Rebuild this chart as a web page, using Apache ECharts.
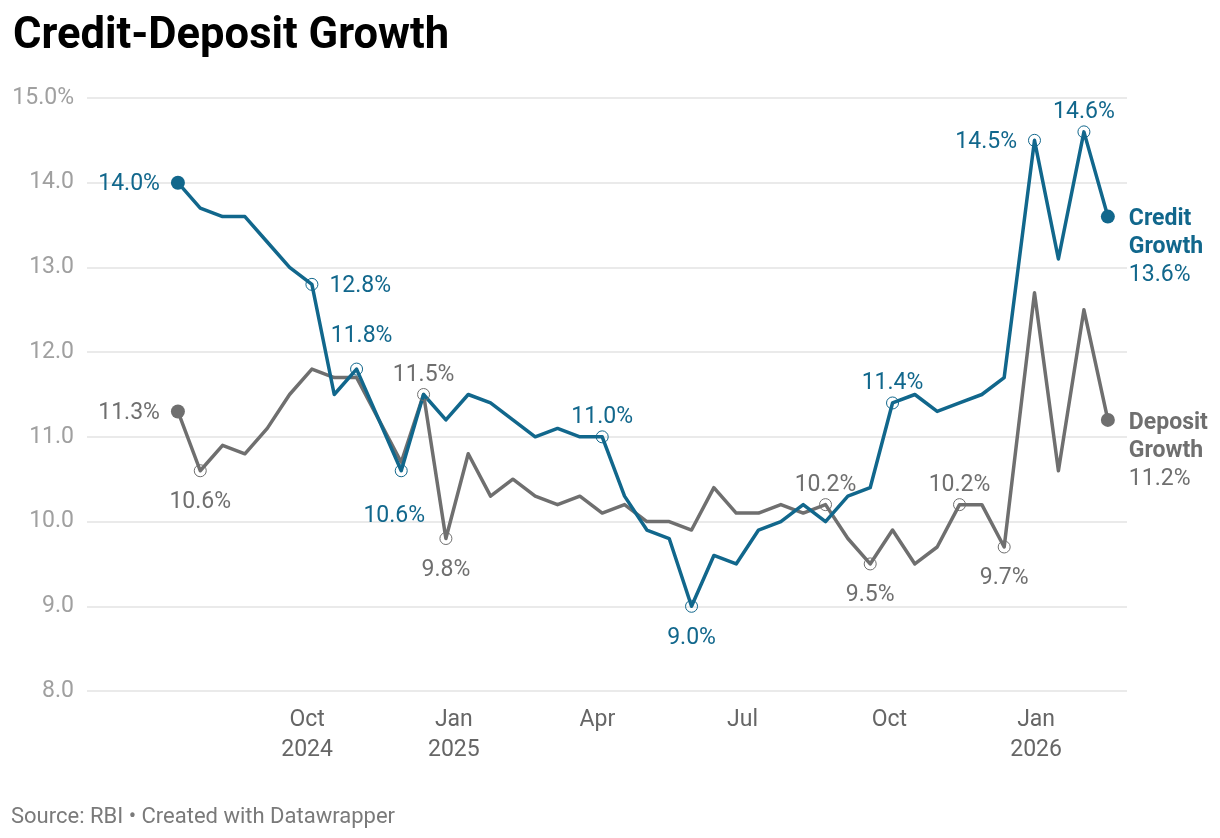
<!DOCTYPE html>
<html>
<head>
<meta charset="utf-8">
<script src="https://cdn.jsdelivr.net/npm/echarts@6/dist/echarts.min.js"></script>
<style>
  html, body { margin: 0; padding: 0; background: #fff; }
  #chart { width: 1220px; height: 838px; }
</style>
</head>
<body>
<div id="chart"></div>
<script>
// ---- Data ----
const dates = [
  '2024-07-12','2024-07-26','2024-08-09','2024-08-23','2024-09-06','2024-09-20','2024-10-04','2024-10-18',
  '2024-11-01','2024-11-15','2024-11-29','2024-12-13','2024-12-27',
  '2025-01-10','2025-01-24','2025-02-07','2025-02-21','2025-03-07','2025-03-21','2025-04-04','2025-04-18',
  '2025-05-02','2025-05-16','2025-05-30','2025-06-13','2025-06-27','2025-07-11','2025-07-25','2025-08-08',
  '2025-08-22','2025-09-05','2025-09-19','2025-10-03','2025-10-17','2025-10-31','2025-11-14','2025-11-28',
  '2025-12-12','2025-12-31',
  '2026-01-15','2026-01-31','2026-02-15'
];
const creditGrowth = [
  14.0, 13.7, 13.6, 13.6, 13.3, 13.0, 12.8, 11.5, 11.8, 11.2, 10.6, 11.5, 11.2,
  11.5, 11.4, 11.2, 11.0, 11.1, 11.0, 11.0, 10.3, 9.9, 9.8, 9.0, 9.6, 9.5, 9.9, 10.0,
  10.2, 10.0, 10.3, 10.4, 11.4, 11.5, 11.3, 11.4, 11.5, 11.7, 14.5,
  13.1, 14.6, 13.6
];
const depositGrowth = [
  11.3, 10.6, 10.9, 10.8, 11.1, 11.5, 11.8, 11.7, 11.7, 11.2, 10.7, 11.5, 9.8,
  10.8, 10.3, 10.5, 10.3, 10.2, 10.3, 10.1, 10.2, 10.0, 10.0, 9.9, 10.4, 10.1, 10.1, 10.2,
  10.1, 10.2, 9.8, 9.5, 9.9, 9.5, 9.7, 10.2, 10.2, 9.7, 12.7,
  10.6, 12.5, 11.2
];
const seriesNames = ['Credit Growth', 'Deposit Growth'];
const xTickDates = ['2024-10-01','2025-01-01','2025-04-01','2025-07-01','2025-10-01','2026-01-01'];
const monthNames = ['Jan','Feb','Mar','Apr','May','Jun','Jul','Aug','Sep','Oct','Nov','Dec'];
const yMin = 8, yMax = 15, yStep = 1;
const xRange = ['2024-05-16', '2026-02-27'];

// annotated points: index -> label placement
const creditCallouts = {0:'left', 6:'right', 8:'top', 10:'bottom', 19:'top', 23:'bottom', 32:'top', 38:'left', 40:'top'};
const depositCallouts = {0:'left', 1:'bottom', 11:'top', 12:'bottom', 29:'top', 31:'bottom', 35:'top', 37:'bottom'};
// extra nudges (px) for labels moved aside to avoid overlaps
const creditNudge = {8: [5, -13], 10: [-7, 14]};
const depositNudge = {};

// ---- Styles ----
const BLUE = '#11678c';
const GREY = '#6f6f6f';
const FONT = 'Roboto';
const LBL = 23;

function ts(s) { const p = s.split('-').map(Number); return Date.UTC(p[0], p[1]-1, p[2]); }

function distFor(pos) {
  return pos === 'top' ? 1 : pos === 'bottom' ? 13 : 11;
}

function buildData(values, callouts, nudges, color, name) {
  const last = values.length - 1;
  return dates.map((d, i) => {
    const item = { value: [ts(d), values[i]] };
    const pos = callouts[i];
    if (i === 0 || i === last) {
      item.symbol = 'circle';
      item.symbolSize = 14;
      item.itemStyle = { color: color };
    } else if (pos) {
      item.symbol = 'circle';
      item.symbolSize = 12;
      item.itemStyle = { color: 'rgba(255,255,255,0)', borderColor: color, borderWidth: 1 };
    } else {
      item.symbol = 'none';
    }
    if (pos) {
      const base = (pos === 'left' || pos === 'right') ? [0, 2] : [0, 0];
      const n = nudges[i] || [0, 0];
      item.label = { show: true, position: pos, distance: distFor(pos), offset: [base[0] + n[0], base[1] + n[1]] };
    }
    if (i === last) {
      const parts = name.split(' ');
      item.label = {
        show: true, position: 'right', distance: 14, offset: [0, 31],
        formatter: '{b|' + parts[0] + '}\n{b|' + parts[1] + '}\n{v|' + values[i].toFixed(1) + '%}',
        rich: {
          b: { fontFamily: FONT, fontWeight: 'bold', fontSize: LBL, lineHeight: 28, color: color },
          v: { fontFamily: FONT, fontSize: LBL, lineHeight: 28, color: color }
        }
      };
    }
    return item;
  });
}

function makeSeries(name, values, callouts, nudges, color) {
  return {
    name: name,
    type: 'line',
    symbol: 'none',
    showSymbol: true,
    showAllSymbol: true,
    lineStyle: { color: color, width: 3.5, join: 'round' },
    itemStyle: { color: color },
    label: {
      show: false,
      color: color,
      fontFamily: FONT,
      fontSize: LBL,
      lineHeight: 24,
      formatter: p => p.value[1].toFixed(1) + '%'
    },
    emphasis: { disabled: true },
    data: buildData(values, callouts, nudges, color, name)
  };
}

const chart = echarts.init(document.getElementById('chart'), null, { renderer: 'canvas' });
chart.setOption({
  animation: false,
  backgroundColor: '#ffffff',
  title: [
    {
      text: 'Credit-Deposit Growth',
      left: 8, top: 10,
      textStyle: { fontFamily: FONT, fontWeight: 'bold', fontSize: 43.5, color: '#000' }
    },
    {
      text: 'Source: RBI • Created with Datawrapper',
      left: 6, top: 801,
      textStyle: { fontFamily: FONT, fontWeight: 'normal', fontSize: 22, color: '#7a7a7a' }
    }
  ],
  grid: { left: 87, right: 93, top: 98, bottom: 147 },
  xAxis: {
    type: 'value',
    min: ts(xRange[0]),
    max: ts(xRange[1]),
    axisLine: { show: false },
    axisTick: { show: false },
    splitLine: { show: false },
    axisLabel: {
      customValues: xTickDates.map(ts),
      color: '#666',
      fontFamily: FONT,
      fontSize: LBL,
      lineHeight: 30,
      margin: 14,
      showMinLabel: true,
      showMaxLabel: true,
      formatter: function (v) {
        const d = new Date(v);
        const m = monthNames[d.getUTCMonth()];
        const y = d.getUTCFullYear();
        const first = ts(xTickDates[0]);
        if (d.getUTCMonth() === 0 || v === first) return m + '\n' + y;
        return m;
      }
    }
  },
  yAxis: {
    type: 'value',
    min: yMin, max: yMax, interval: yStep,
    axisLine: { show: false },
    axisTick: { show: false },
    splitLine: { lineStyle: { color: '#e3e3e3', width: 1.5 } },
    axisLabel: {
      color: '#a0a0a0',
      fontFamily: FONT,
      fontSize: LBL,
      margin: 13,
      padding: [5, 0, 0, 0],
      formatter: v => v === yMax ? v.toFixed(1) + '%' : v.toFixed(1)
    }
  },
  series: [
    makeSeries(seriesNames[1], depositGrowth, depositCallouts, depositNudge, GREY),
    makeSeries(seriesNames[0], creditGrowth, creditCallouts, creditNudge, BLUE)
  ]
});
</script>
</body>
</html>
